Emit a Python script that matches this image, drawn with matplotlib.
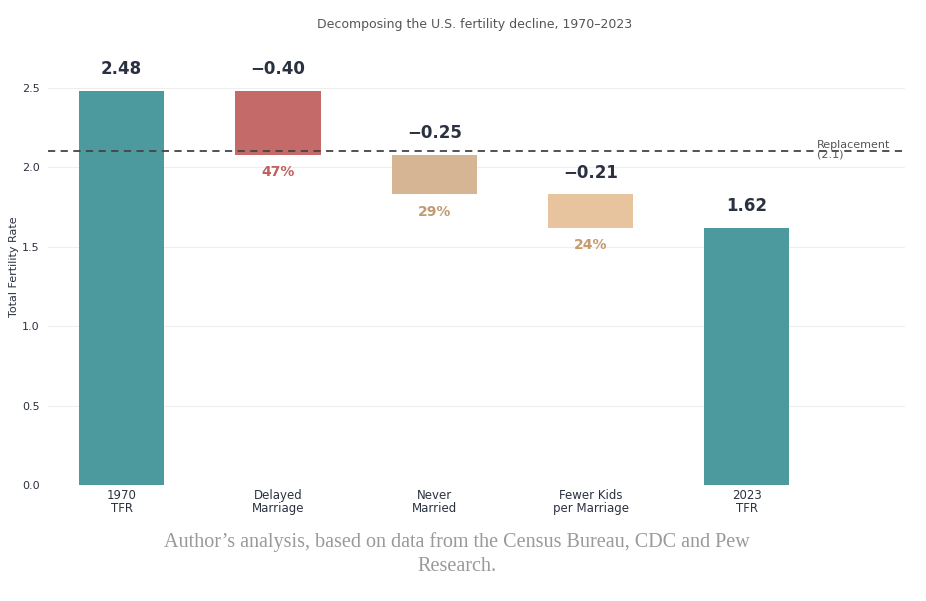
import numpy as np
import matplotlib.pyplot as plt

categories = ["1970\nTFR", "Delayed\nMarriage", "Never\nMarried", "Fewer Kids\nper Marriage", "2023\nTFR"]
start_tfr = 2.48
end_tfr = 1.62
changes = [-0.40, -0.25, -0.21]
shares = ["47%", "29%", "24%"]
replacement = 2.1

teal = "#3f9397"
change_colors = ["#c0605f", "#d2b08b", "#e6c096"]
share_colors = ["#c0605f", "#c09a70", "#c59a6c"]

fig = plt.figure(figsize=(9.26, 6.01), dpi=100)
ax = fig.add_axes([0.052, 0.193, 0.925, 0.727])

x = np.arange(len(categories))
width = 0.545

# totals
ax.bar(x[0], start_tfr, width, color=teal, alpha=0.93, zorder=2)
ax.bar(x[-1], end_tfr, width, color=teal, alpha=0.93, zorder=2)
ax.text(x[0], start_tfr + 0.08, f"{start_tfr:.2f}", ha='center', va='bottom',
        fontsize=12, fontweight='bold', color='#2a3140')
ax.text(x[-1], end_tfr + 0.08, f"{end_tfr:.2f}", ha='center', va='bottom',
        fontsize=12, fontweight='bold', color='#2a3140')

# steps
level = start_tfr
for i, (c, s) in enumerate(zip(changes, shares)):
    xi = x[i + 1]
    bottom = level + c
    ax.bar(xi, -c, width, bottom=bottom, color=change_colors[i], alpha=0.93, zorder=2)
    ax.text(xi, level + 0.08, f"\u2212{abs(c):.2f}", ha='center', va='bottom',
            fontsize=12, fontweight='bold', color='#2a3140')
    ax.text(xi, bottom - 0.065, s, ha='center', va='top',
            fontsize=10, fontweight='bold', color=share_colors[i])
    level = bottom

ax.axhline(replacement, color='#444444', lw=1.3, ls=(0, (4, 3)), zorder=3)
ax.text(4.45, replacement + 0.01, "Replacement\n(2.1)", ha='left', va='center',
        fontsize=8, color='#555555', linespacing=0.85)

ax.set_xlim(-0.47, 5.01)
ax.set_ylim(0, 2.75)
ax.set_yticks([0, 0.5, 1.0, 1.5, 2.0, 2.5])
ax.set_yticklabels(["0.0", "0.5", "1.0", "1.5", "2.0", "2.5"])
ax.set_xticks(x)
ax.set_xticklabels(categories, fontsize=8.5, color='#2a3140', linespacing=1.0)
ax.tick_params(axis='y', labelsize=8, colors='#2a3140', length=0, pad=6)
ax.tick_params(axis='x', length=0, pad=3)
ax.grid(axis='y', color='#eeeeee', lw=0.8, zorder=0)
ax.set_axisbelow(True)
for sp in ax.spines.values():
    sp.set_visible(False)
ax.set_ylabel("Total Fertility Rate", fontsize=8, color='#2a3140')
ax.yaxis.set_label_coords(-0.034, 0.5)

fig.text(0.513, 0.96, "Decomposing the U.S. fertility decline, 1970\u20132023",
         ha='center', va='center', fontsize=9, color='#555555')
fig.text(0.493, 0.078, "Author\u2019s analysis, based on data from the Census Bureau, CDC and Pew\nResearch.",
         ha='center', va='center', fontsize=14.5, color='#999999',
         family='Liberation Serif', linespacing=1.35)

fig.savefig("out.png", dpi=100)
